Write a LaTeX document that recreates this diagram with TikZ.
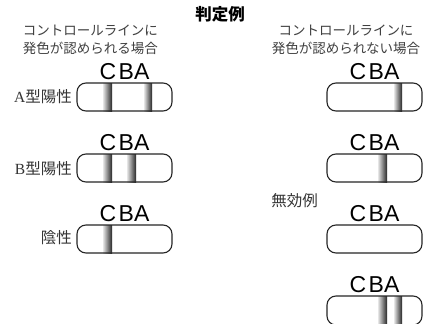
\documentclass[tikz,border=0pt]{standalone}
\usepackage{fontspec}
\newfontfamily\jp{Noto Sans CJK JP}
\newfontfamily\lat{Liberation Sans}
\newfontfamily\ser{Liberation Serif}
\begin{document}
\begin{tikzpicture}[x=1pt,y=-1pt,
  stripbox/.style={draw=black!85,line width=1.1pt,rounded corners=9pt},
  band/.style={left color=gray!20,right color=black!85,draw=none},
  cba/.style={font=\lat\fontsize{23}{23}\selectfont,inner sep=0pt,text=black},
  captext/.style={font=\jp\fontsize{13.5}{17.5}\selectfont,text=black!75,align=center,inner sep=0pt},
  lab/.style={font=\jp\fontsize{15.5}{16}\selectfont,text=black!80,inner sep=0pt},
  head/.style={font=\jp\bfseries\fontsize{16.5}{17}\selectfont,inner sep=0pt}]
\useasboundingbox (0,0) rectangle (424,324);
\clip (0,0) rectangle (424,324);
\fill[white] (0,0) rectangle (424,324);

\node[head] (title) at (220,14.5) {判定例};
\node[captext] (capL) at (90.5,40) {コントロールラインに\\発色が認められる場合};
\node[captext] (capR) at (346,40) {コントロールラインに\\発色が認められない場合};

% left column
\foreach \y/\n in {83/a,154/b,225/c}{
  \node[cba,anchor=base] (C\n) at (108,\y-4) {C};
  \node[cba,anchor=base west] (BA\n) at (118.5,\y-4) {BA};
}
\shade[band] (103,83) rectangle (112,111);
\shade[band] (144,83) rectangle (152,111);
\draw[stripbox] (77,83) rectangle (172,111);
\node[lab,anchor=east] (labA) at (72,97) {{\ser A}型陽性};

\shade[band] (103,154) rectangle (112,182);
\shade[band] (127,154) rectangle (136,182);
\draw[stripbox] (77,154) rectangle (172,182);
\node[lab,anchor=east] (labB) at (72,168.5) {{\ser B}型陽性};

\shade[band] (103,225) rectangle (112,253);
\draw[stripbox] (77,225) rectangle (172,253);
\node[lab,anchor=east] (labN) at (72,238) {陰性};

% right column
\foreach \y/\n in {83/d,154/e,225/f,296/g}{
  \node[cba,anchor=base] (C\n) at (358,\y-4) {C};
  \node[cba,anchor=base west] (BA\n) at (368.5,\y-4) {BA};
}
\shade[band] (394,83) rectangle (402,111);
\draw[stripbox] (327,83) rectangle (422,111);

\shade[band] (378,154) rectangle (387,182);
\draw[stripbox] (327,154) rectangle (422,182);

\node[lab] (labI) at (294.5,200.5) {無効例};
\draw[stripbox] (327,225) rectangle (422,253);

\shade[band] (378,296) rectangle (387,326);
\shade[band] (394,296) rectangle (402,326);
\draw[stripbox] (327,296) rectangle (422,325);
\end{tikzpicture}
\end{document}
